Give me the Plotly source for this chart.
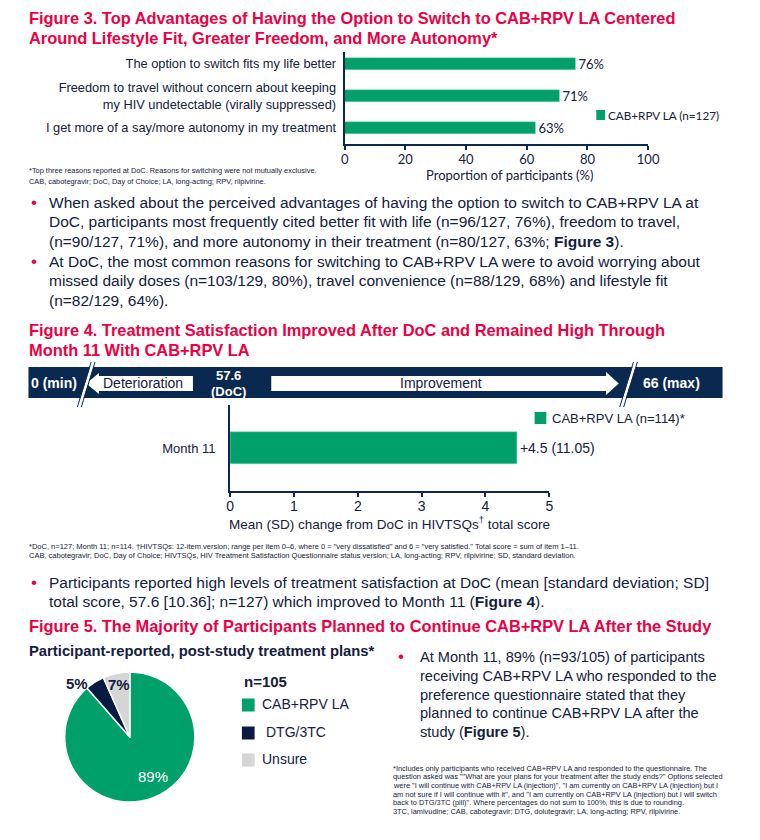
import plotly.graph_objects as go

W, H = 760, 840
RED = "#EC0044"
NAVY = "#0A2951"
TEXT = "#13203E"
GREEN = "#00A06B"
PIE_NAVY = "#0B1A40"
GREY = "#D5D5D5"
ARIAL = "Liberation Sans, Arial, sans-serif"
NARROW = "Liberation Sans Narrow, Arial Narrow, Liberation Sans, sans-serif"
CAL = "Lato, Carlito, sans-serif"

# Figure 3: top advantages of having the option to switch
adv_labels = [
    "The option to switch fits my life better",
    "Freedom to travel without concern about keeping<br>my HIV undetectable (virally suppressed)",
    "I get more of a say/more autonomy in my treatment",
]
adv_pct = [76, 71, 63]
adv_ticks = [0, 20, 40, 60, 80, 100]
adv_series = "CAB+RPV LA (n=127)"

# Figure 4: change in HIVTSQs total score
sat_cat = ["Month 11"]
sat_change = [4.5]
sat_sd = [11.05]
sat_ticks = [0, 1, 2, 3, 4, 5]
sat_series = "CAB+RPV LA (n=114)*"

# Figure 5: post-study treatment plans
plan_labels = ["CAB+RPV LA", "DTG/3TC", "Unsure"]
plan_counts = [93, 5, 7]
plan_pct = [89, 5, 7]
plan_colors = [GREEN, PIE_NAVY, GREY]


# positions below are page pixels from the top-left corner
def px(x):
    return x / W


def py(y):
    return 1 - y / H


annotations = []


def txt(x, y, s, size, color=TEXT, family=ARIAL, anchor="left"):
    annotations.append(dict(
        x=px(x), y=py(y), xref="paper", yref="paper", text=s, showarrow=False,
        xanchor=anchor, yanchor="middle", align=anchor, borderpad=0,
        font=dict(size=size, color=color, family=family),
    ))


fig = go.Figure()

fig.add_trace(go.Bar(
    y=adv_labels, x=adv_pct, orientation="h", xaxis="x", yaxis="y",
    marker=dict(color=GREEN, line=dict(color="#7fd3b5", width=0.5)), width=0.375,
    text=[f"{v}%" for v in adv_pct], textposition="outside", cliponaxis=False,
    constraintext="none", textfont=dict(family=CAL, size=13, color=TEXT), showlegend=False,
))

fig.add_trace(go.Bar(
    y=sat_cat, x=sat_change, orientation="h", xaxis="x2", yaxis="y2",
    marker=dict(color=GREEN, line=dict(color="#7fd3b5", width=0.5)), width=0.372,
    text=[f"+{v} ({s})" for v, s in zip(sat_change, sat_sd)], textposition="outside",
    cliponaxis=False, constraintext="none",
    textfont=dict(family=ARIAL, size=14, color=TEXT), showlegend=False,
))

fig.add_trace(go.Pie(
    labels=plan_labels, values=plan_counts, sort=False, direction="clockwise", rotation=0,
    marker=dict(colors=plan_colors, line=dict(color="white", width=1.5)),
    textinfo="none", hoverinfo="label+percent", showlegend=False,
    domain=dict(x=[px(62), px(195)], y=[py(803), py(671)]),
))

axis_common = dict(showgrid=False, zeroline=False, showline=True, linecolor=NAVY,
                   linewidth=2, fixedrange=True)

fig.update_layout(
    width=W, height=H, margin=dict(l=0, r=0, t=0, b=0),
    paper_bgcolor="white", plot_bgcolor="white", bargap=0,
    xaxis=dict(domain=[px(348), px(658)], anchor="y", range=[0, 100], tickvals=adv_ticks,
               ticks="outside", ticklen=4, tickwidth=2, tickcolor=NAVY, ticklabelstandoff=-2,
               tickfont=dict(family=CAL, size=13, color=TEXT), **axis_common),
    yaxis=dict(domain=[py(144), py(52)], anchor="x", range=[2.5, -0.375],
               categoryorder="array", categoryarray=adv_labels, ticks="",
               ticklabelstandoff=4, tickfont=dict(family=ARIAL, size=12.8, color=TEXT),
               **axis_common),
    xaxis2=dict(domain=[px(231), px(557)], anchor="y2", range=[0, 5], tickvals=sat_ticks,
                ticks="outside", ticklen=4, tickwidth=2, tickcolor=NAVY, ticklabelstandoff=-3,
                tickfont=dict(family=ARIAL, size=14, color=TEXT), **axis_common),
    yaxis2=dict(domain=[py(491), py(405)], anchor="x2", range=[-0.5, 0.5], ticks="",
                ticklabelstandoff=10, tickfont=dict(family=ARIAL, size=13, color=TEXT),
                **axis_common),
)

shapes = []


def path(points):
    return "M" + " L".join(f"{px(x)},{py(y)}" for x, y in points) + " Z"


# banner for Figure 4
shapes.append(dict(type="rect", xref="paper", yref="paper", x0=px(25), x1=px(734),
                   y0=py(398), y1=py(367), fillcolor=NAVY, line=dict(width=0)))
shapes.append(dict(type="path", xref="paper", yref="paper", fillcolor="white", line=dict(width=0),
                   path=path([(84, 383.5), (97, 373), (97, 376), (193, 376), (193, 391),
                              (97, 391), (97, 394)])))
shapes.append(dict(type="path", xref="paper", yref="paper", fillcolor="white", line=dict(width=0),
                   path=path([(273, 376), (615, 376), (615, 372), (628, 383.5), (615, 395),
                              (615, 391), (273, 391)])))
for x_bot, x_top in [(75, 89), (629, 643)]:
    shapes.append(dict(type="line", xref="paper", yref="paper", x0=px(x_bot + 2), x1=px(x_top + 2),
                       y0=py(406), y1=py(363), line=dict(color="white", width=3)))
    for dx in (0, 4):
        shapes.append(dict(type="line", xref="paper", yref="paper", x0=px(x_bot + dx),
                           x1=px(x_top + dx), y0=py(407), y1=py(362),
                           line=dict(color=NAVY, width=1)))

# legend swatches
shapes.append(dict(type="rect", xref="paper", yref="paper", x0=px(605), x1=px(614),
                   y0=py(120), y1=py(110), fillcolor=GREEN, line=dict(width=0)))
shapes.append(dict(type="rect", xref="paper", yref="paper", x0=px(542), x1=px(554),
                   y0=py(424), y1=py(412), fillcolor=GREEN, line=dict(width=0)))
for c, y in zip(plan_colors, [705, 733, 760]):
    shapes.append(dict(type="rect", xref="paper", yref="paper", x0=px(243), x1=px(256),
                       y0=py(y + 6.5), y1=py(y - 6.5), fillcolor=c, line=dict(width=0)))

fig.update_layout(shapes=shapes)

TS = 16.4
# Figure 3 title and chart texts
txt(25, 18, "<b>Figure 3. Top Advantages of Having the Option to Switch to CAB+RPV LA Centered</b>", TS, RED, NARROW)
txt(25, 38, "<b>Around Lifestyle Fit, Greater Freedom, and More Autonomy*</b>", TS, RED, NARROW)
txt(516, 175, "Proportion of participants (%)", 13, TEXT, CAL, "center")
txt(616, 115, adv_series, 11.7, TEXT, CAL)
txt(25, 171, "*Top three reasons reported at DoC. Reasons for switching were not mutually exclusive.", 7.4, TEXT, NARROW)
txt(25, 181, "CAB, cabotegravir; DoC, Day of Choice; LA, long-acting; RPV, rilpivirine.", 7.4, TEXT, NARROW)

# bullets
for y in (202, 261, 582):
    txt(27, y, "•", 17, RED)
para = [
    (202, "When asked about the perceived advantages of having the option to switch to CAB+RPV LA at"),
    (222, "DoC, participants most frequently cited better fit with life (n=96/127, 76%), freedom to travel,"),
    (242, "(n=90/127, 71%), and more autonomy in their treatment (n=80/127, 63%; <b>Figure 3</b>)."),
    (261, "At DoC, the most common reasons for switching to CAB+RPV LA were to avoid worrying about"),
    (281, "missed daily doses (n=103/129, 80%), travel convenience (n=88/129, 68%) and lifestyle fit"),
    (300, "(n=82/129, 64%)."),
    (582, "Participants reported high levels of treatment satisfaction at DoC (mean [standard deviation; SD]"),
    (601, "total score, 57.6 [10.36]; n=127) which improved to Month 11 (<b>Figure 4</b>)."),
]
for y, s in para:
    txt(45, y, s, 15.5)

# Figure 4
txt(25, 330, "<b>Figure 4. Treatment Satisfaction Improved After DoC and Remained High Through</b>", TS, RED, NARROW)
txt(25, 350, "<b>Month 11 With CAB+RPV LA</b>", TS, RED, NARROW)
txt(27, 383, "<b>0 (min)</b>", 14, "white")
txt(142, 383.5, "Deterioration", 14, TEXT, ARIAL, "center")
txt(229, 376, "<b>57.6</b>", 13, "white", ARIAL, "center")
txt(229, 391, "<b>(DoC)</b>", 13, "white", ARIAL, "center")
txt(446, 383.5, "Improvement", 14, TEXT, ARIAL, "center")
txt(682, 383, "<b>66 (max)</b>", 14, "white", ARIAL, "center")
txt(559, 418, sat_series, 13)
txt(394, 523, "Mean (SD) change from DoC in HIVTSQs<sup>†</sup> total score", 13.5, TEXT, ARIAL, "center")
txt(25, 546, "*DoC, n=127; Month 11; n=114. †HIVTSQs: 12-item version; range per item 0–6, where 0 = \"very dissatisfied\" and 6 = \"very satisfied.\" Total score = sum of item 1–11.", 7.5, TEXT, NARROW)
txt(25, 555, "CAB, cabotegravir; DoC, Day of Choice; HIVTSQs, HIV Treatment Satisfaction Questionnaire status version; LA, long-acting; RPV, rilpivirine; SD, standard deviation.", 7.5, TEXT, NARROW)

# Figure 5
txt(25, 626, "<b>Figure 5. The Majority of Participants Planned to Continue CAB+RPV LA After the Study</b>", TS, RED, NARROW)
txt(25, 651, "<b>Participant-reported, post-study treatment plans*</b>", 14.8, TEXT)
txt(152, 776, f"{plan_pct[0]}%", 15, "white", ARIAL, "center")
txt(75, 683, f"<b>{plan_pct[1]}%</b>", 15, TEXT, ARIAL, "center")
txt(117, 684, f"<b>{plan_pct[2]}%</b>", 15, TEXT, ARIAL, "center")
txt(244, 681, f"<b>n={sum(plan_counts)}</b>", 15, TEXT)
for (lab, y, x) in zip(plan_labels, [704, 732, 759], [263, 267, 263]):
    txt(x, y, lab, 14, TEXT)

txt(401, 656, "•", 17, RED)
right_para = [
    "At Month 11, 89% (n=93/105) of participants",
    "receiving CAB+RPV LA who responded to the",
    "preference questionnaire stated that they",
    "planned to continue CAB+RPV LA after the",
    "study (<b>Figure 5</b>).",
]
for y, s in zip([657, 676, 695, 713, 732], right_para):
    txt(424, y, s, 14.6)

notes5 = [
    "*Includes only participants who received CAB+RPV LA and responded to the questionnaire. The",
    "question asked was \"\"What are your plans for your treatment after the study ends?\" Options selected",
    "were \"I will continue with CAB+RPV LA (injection)\", \"I am currently on CAB+RPV LA (injection) but I",
    "am not sure if I will continue with it\", and \"I am currently on CAB+RPV LA (injection) but I will switch",
    "back to DTG/3TC (pill)\". Where percentages do not sum to 100%, this is due to rounding.",
    "3TC, lamivudine; CAB, cabotegravir; DTG, dolutegravir; LA, long-acting; RPV, rilpivirine.",
]
for i, s in enumerate(notes5):
    txt(396, 768 + i * 8.7, s, 7.4, TEXT, NARROW)

fig.update_layout(annotations=annotations)
# drop the default page margin so the 760x840 figure fills the window exactly
fig.write_html("out.html", config={"displayModeBar": False},
               post_script="document.body.style.margin='0';document.body.style.overflow='hidden';")
